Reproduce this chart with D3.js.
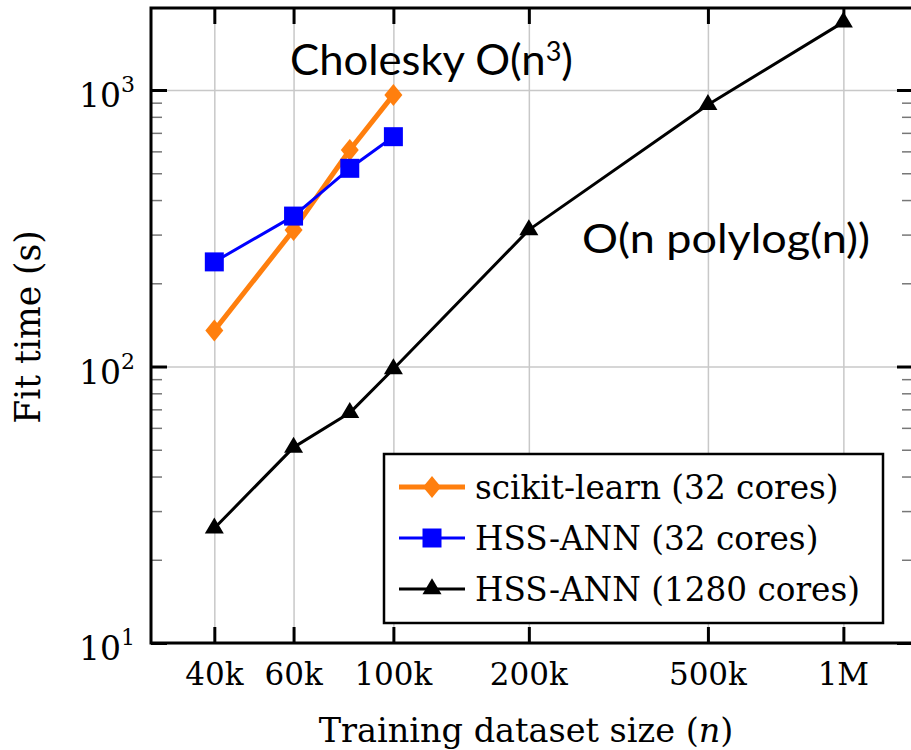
<!DOCTYPE html>
<html><head><meta charset="utf-8">
<script src="https://cdn.jsdelivr.net/npm/d3@7"></script>
<style>
html,body{margin:0;padding:0;background:#fff;}
svg{display:block;}
</style></head>
<body>
<svg id="chart" width="911" height="750"></svg>
<script>
// ---- data ----
const sizesAll = [40000, 60000, 80000, 100000, 200000, 500000, 1000000];
const sizesSmall = [40000, 60000, 80000, 100000];
const sklearn32 = [135, 312, 607, 960];
const hss32 = [239, 350, 521, 678];
const hss1280 = [26, 51, 68, 98, 312, 885, 1760];
const xTickValues = [40000, 60000, 100000, 200000, 500000, 1000000];
const xTickLabels = ["40k", "60k", "100k", "200k", "500k", "1M"];
const yTickValues = [10, 100, 1000];
const yTickExponents = ["1", "2", "3"];
const seriesNames = ["scikit-learn (32 cores)", "HSS-ANN (32 cores)", "HSS-ANN (1280 cores)"];

// ---- layout ----
const L = 151, R = 913, T = 8, B = 643;
const svg = d3.select("#chart");
const x = d3.scaleLog().domain([28930, 1428000]).range([L, R]);
const y = d3.scaleLog().domain([10, 1980]).range([B, T]);
const SERIF = "DejaVu Serif";

// grid
const gridX = svg.append("g").attr("transform", `translate(0,${B})`)
  .call(d3.axisBottom(x).tickValues(xTickValues).tickSize(-(B - T)).tickFormat(""));
gridX.select(".domain").remove();
gridX.selectAll("line").attr("stroke", "#c8c8c8").attr("stroke-width", 1.5);
const gridY = svg.append("g").attr("transform", `translate(${L},0)`)
  .call(d3.axisLeft(y).tickValues(yTickValues).tickSize(-(R - L)).tickFormat(""));
gridY.select(".domain").remove();
gridY.selectAll("line").attr("stroke", "#c8c8c8").attr("stroke-width", 1.5);

// minor y ticks
const minor = [];
for (const d of [10, 100, 1000]) for (let k = 2; k <= 9; k++) if (d * k < 1980) minor.push(d * k);
function styleAxis(g, color, w) {
  g.select(".domain").remove();
  g.selectAll("line").attr("stroke", color).attr("stroke-width", w);
  g.selectAll("text").remove();
}
styleAxis(svg.append("g").attr("transform", `translate(${L},0)`)
  .call(d3.axisLeft(y).tickValues(minor).tickSize(-11)), "#777", 1.5);
styleAxis(svg.append("g").attr("transform", `translate(${R},0)`)
  .call(d3.axisRight(y).tickValues(minor).tickSize(-11)), "#777", 1.5);
styleAxis(svg.append("g").attr("transform", `translate(${L},0)`)
  .call(d3.axisLeft(y).tickValues(yTickValues).tickSize(-16)), "#000", 3);
styleAxis(svg.append("g").attr("transform", `translate(${R},0)`)
  .call(d3.axisRight(y).tickValues(yTickValues).tickSize(-16)), "#000", 3);
styleAxis(svg.append("g").attr("transform", `translate(0,${B})`)
  .call(d3.axisBottom(x).tickValues(xTickValues).tickSize(-16)), "#000", 3);
styleAxis(svg.append("g").attr("transform", `translate(0,${T})`)
  .call(d3.axisTop(x).tickValues(xTickValues).tickSize(-16)), "#000", 3);

svg.append("rect").attr("x", L).attr("y", T).attr("width", R - L).attr("height", B - T)
  .attr("fill", "none").attr("stroke", "#000").attr("stroke-width", 3);

// tick labels
svg.append("g").selectAll("text").data(xTickValues).join("text")
  .attr("font-family", SERIF)
  .attr("x", d => x(d)).attr("y", 685).attr("text-anchor", "middle")
  .attr("font-size", 31).attr("fill", "#000")
  .text((d, i) => xTickLabels[i]);
const yl = svg.append("g").selectAll("text").data(yTickValues).join("text")
  .attr("font-family", SERIF)
  .attr("x", 135).attr("y", d => y(d) + 17).attr("text-anchor", "end")
  .attr("font-size", 33).attr("fill", "#000");
yl.append("tspan").text("10");
yl.append("tspan").attr("dy", -15).attr("font-size", 22).text((d, i) => yTickExponents[i]);

svg.append("text").attr("font-family", SERIF).attr("x", 526).attr("y", 742).attr("text-anchor", "middle")
  .attr("font-size", 33.5)
  .html("Training dataset size (<tspan font-style='italic'>n</tspan>)");
svg.append("text").attr("font-family", SERIF).attr("transform", "translate(40,327) rotate(-90)").attr("text-anchor", "middle")
  .attr("font-size", 34.5)
  .text("Fit time (s)");

const diamond = "M0,-11L9,0L0,11L-9,0Z";
const square = "M-9.5,-9.5H9.5V9.5H-9.5Z";
const triangle = "M0,-10.7L9.5,5.3L-9.5,5.3Z";

const series = [
  {name: seriesNames[0], xs: sizesSmall, ys: sklearn32, color: "#ff7f0e", w: 5, marker: diamond},
  {name: seriesNames[1], xs: sizesSmall, ys: hss32, color: "#0000ff", w: 3, marker: square},
  {name: seriesNames[2], xs: sizesAll, ys: hss1280, color: "#000000", w: 3, marker: triangle}
];
const line = d3.line().x(d => x(d[0])).y(d => y(d[1]));
for (const s of [series[2], series[0], series[1]]) {
  const pts = s.xs.map((v, i) => [v, s.ys[i]]);
  svg.append("path").attr("d", line(pts)).attr("fill", "none")
    .attr("stroke", s.color).attr("stroke-width", s.w).attr("stroke-linejoin", "round");
  svg.append("g").selectAll("path").data(pts).join("path")
    .attr("transform", d => `translate(${x(d[0])},${y(d[1])})`)
    .attr("d", s.marker).attr("fill", s.color);
}

svg.append("text").attr("x", 290).attr("y", 75)
  .attr("font-family", "Lato, 'Open Sans', sans-serif").attr("font-size", 42)
  .attr("textLength", 283).attr("lengthAdjust", "spacingAndGlyphs")
  .html("Cholesky O(n<tspan font-size='26' dy='-14'>3</tspan><tspan dy='14'>)</tspan>");
svg.append("text").attr("x", 582).attr("y", 253)
  .attr("font-family", "Lato, 'Open Sans', sans-serif").attr("font-size", 40)
  .attr("textLength", 288).attr("lengthAdjust", "spacingAndGlyphs")
  .text("O(n polylog(n))");

const lg = svg.append("g");
lg.append("rect").attr("x", 384).attr("y", 454).attr("width", 499).attr("height", 169)
  .attr("fill", "#fff").attr("stroke", "#000").attr("stroke-width", 2.5);
series.forEach((s, i) => {
  const cy = 487 + i * 51;
  lg.append("line").attr("x1", 399).attr("x2", 465).attr("y1", cy).attr("y2", cy)
    .attr("stroke", s.color).attr("stroke-width", s.w);
  lg.append("path").attr("transform", `translate(432,${cy})`).attr("d", s.marker).attr("fill", s.color);
  lg.append("text").attr("font-family", SERIF).attr("x", 475).attr("y", cy + 12)
    .attr("font-size", 32.7).attr("fill", "#000").text(s.name);
});
</script>
</body></html>
